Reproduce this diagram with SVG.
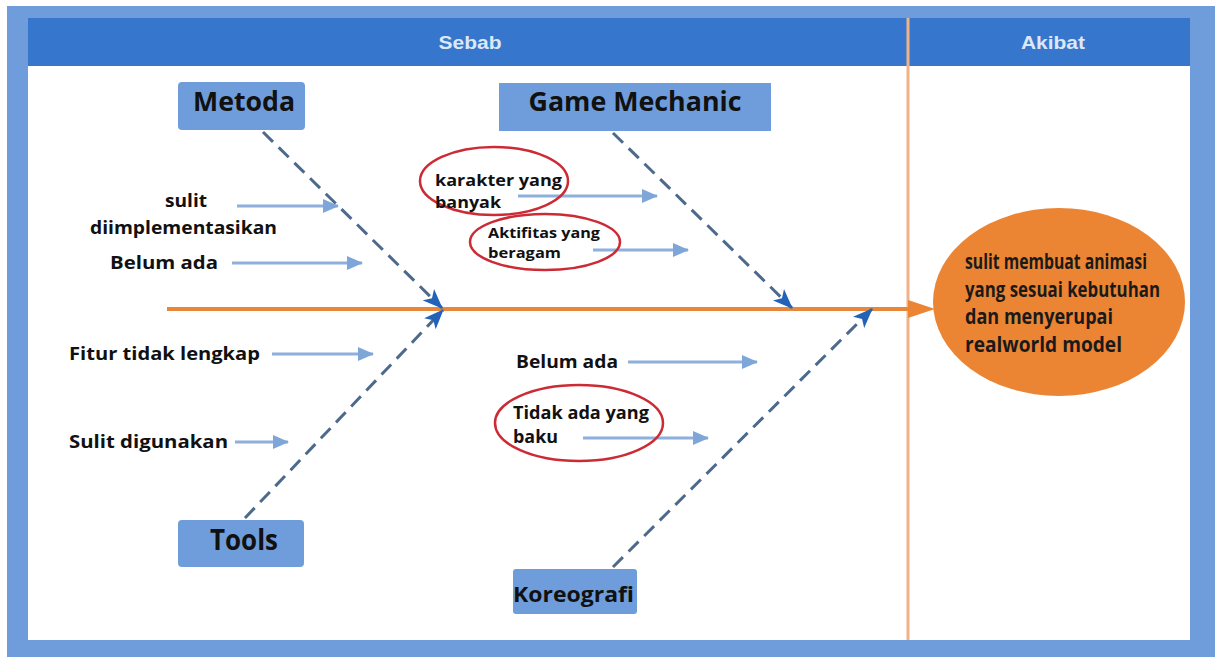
<svg xmlns="http://www.w3.org/2000/svg" width="1215" height="657" viewBox="0 0 1215 657">
<defs>
<style>
.lbl{font-family:"Open Sans","Liberation Sans",sans-serif;font-weight:bold;fill:#111;}
.hdr{font-family:"Liberation Sans Narrow","Liberation Sans",sans-serif;font-weight:bold;fill:#dce8f6;font-size:19px;}
.box{fill:#6f9ddb;}
.dash{stroke:#4d6a8c;stroke-width:3;stroke-dasharray:14 8;fill:none;}
.sub{stroke:#8eb0dc;stroke-width:3;fill:none;}
.ring{fill:none;stroke:#cc2b35;stroke-width:2.5;}
.eff{font-family:"Open Sans","Liberation Sans",sans-serif;font-weight:bold;fill:#1a1a1a;font-size:21px;}
</style>
<marker id="bigHead" viewBox="0 0 20 16" refX="19" refY="8" markerWidth="20" markerHeight="16" markerUnits="userSpaceOnUse" orient="auto">
<path d="M0,0 L20,8 L0,16 L5,8 Z" fill="#2262b8"/>
</marker>
<marker id="smallHead" viewBox="0 0 16 14" refX="15" refY="7" markerWidth="16" markerHeight="14" markerUnits="userSpaceOnUse" orient="auto">
<path d="M0,0 L16,7 L0,14 Z" fill="#7fa6d8"/>
</marker>
</defs>
<rect x="0" y="0" width="1215" height="657" fill="#ffffff"/>
<rect x="7" y="6" width="1208" height="651" fill="#6f9ddb"/>
<rect x="28" y="18" width="1162" height="622" fill="#ffffff"/>
<rect x="28" y="18" width="1162" height="48" fill="#3676cc"/>
<text class="hdr" x="470" y="49" text-anchor="middle" textLength="63" lengthAdjust="spacingAndGlyphs">Sebab</text>
<text class="hdr" x="1053" y="49" text-anchor="middle" textLength="64" lengthAdjust="spacingAndGlyphs">Akibat</text>

<g id="connectors">
<line x1="908" y1="18" x2="908" y2="640" stroke="#f1b287" stroke-width="3"/>
<line x1="167" y1="309" x2="908" y2="309" stroke="#e8863a" stroke-width="4"/>
<path d="M908,300 L935,309 L908,318 Z" fill="#ec8533"/>
<line class="dash" x1="263" y1="132" x2="442" y2="308" marker-end="url(#bigHead)"/>
<line class="dash" x1="613" y1="133" x2="792" y2="308" marker-end="url(#bigHead)"/>
<line class="dash" x1="245" y1="518" x2="443" y2="310" marker-end="url(#bigHead)"/>
<line class="dash" x1="613" y1="567" x2="872" y2="309" marker-end="url(#bigHead)"/>
<line class="sub" x1="237" y1="206" x2="338" y2="206" marker-end="url(#smallHead)"/>
<line class="sub" x1="232" y1="263" x2="362" y2="263" marker-end="url(#smallHead)"/>
<line class="sub" x1="518" y1="196" x2="657" y2="196" marker-end="url(#smallHead)"/>
<line class="sub" x1="593" y1="250" x2="688" y2="250" marker-end="url(#smallHead)"/>
<line class="sub" x1="272" y1="354" x2="373" y2="354" marker-end="url(#smallHead)"/>
<line class="sub" x1="235" y1="442" x2="288" y2="442" marker-end="url(#smallHead)"/>
<line class="sub" x1="628" y1="362" x2="757" y2="362" marker-end="url(#smallHead)"/>
<line class="sub" x1="583" y1="438" x2="708" y2="438" marker-end="url(#smallHead)"/>
</g>

<g id="metoda">
<rect class="box" x="178" y="82" width="127" height="48" rx="4"/>
<text class="lbl" x="244" y="111" font-size="26" text-anchor="middle" textLength="102" lengthAdjust="spacingAndGlyphs">Metoda</text>
</g>
<g id="game-mechanic">
<rect class="box" x="499" y="83" width="272" height="48"/>
<text class="lbl" x="635" y="111" font-size="26" text-anchor="middle" textLength="213" lengthAdjust="spacingAndGlyphs">Game Mechanic</text>
</g>
<g id="tools">
<rect class="box" x="178" y="520" width="126" height="47" rx="4"/>
<text class="lbl" x="244" y="550" font-size="28" text-anchor="middle" textLength="68" lengthAdjust="spacingAndGlyphs">Tools</text>
</g>
<g id="koreografi">
<rect class="box" x="513" y="569" width="124" height="45" rx="3"/>
<text class="lbl" x="513" y="602" font-size="21" textLength="121" lengthAdjust="spacingAndGlyphs">Koreografi</text>
</g>

<g id="cause-metoda-1">
<text class="lbl" x="186" y="207" font-size="18" text-anchor="middle" textLength="42" lengthAdjust="spacingAndGlyphs">sulit</text>
<text class="lbl" x="90" y="234" font-size="18" textLength="187" lengthAdjust="spacingAndGlyphs">diimplementasikan</text>
</g>
<g id="cause-metoda-2">
<text class="lbl" x="110" y="269" font-size="18" textLength="108" lengthAdjust="spacingAndGlyphs">Belum ada</text>
</g>
<g id="cause-gm-1">
<ellipse class="ring" cx="494" cy="181" rx="74" ry="34"/>
<text class="lbl" x="435" y="186" font-size="16" textLength="127" lengthAdjust="spacingAndGlyphs">karakter yang</text>
<text class="lbl" x="435" y="208" font-size="16" textLength="66" lengthAdjust="spacingAndGlyphs">banyak</text>
</g>
<g id="cause-gm-2">
<ellipse class="ring" cx="545" cy="242" rx="75" ry="28"/>
<text class="lbl" x="488" y="238" font-size="14" textLength="112" lengthAdjust="spacingAndGlyphs">Aktifitas yang</text>
<text class="lbl" x="488" y="258" font-size="14" textLength="73" lengthAdjust="spacingAndGlyphs">beragam</text>
</g>
<g id="cause-tools-1">
<text class="lbl" x="69" y="360" font-size="18" textLength="191" lengthAdjust="spacingAndGlyphs">Fitur tidak lengkap</text>
</g>
<g id="cause-tools-2">
<text class="lbl" x="69" y="448" font-size="18" textLength="159" lengthAdjust="spacingAndGlyphs">Sulit digunakan</text>
</g>
<g id="cause-kor-1">
<text class="lbl" x="516" y="368" font-size="18" textLength="102" lengthAdjust="spacingAndGlyphs">Belum ada</text>
</g>
<g id="cause-kor-2">
<ellipse class="ring" cx="579" cy="423" rx="84" ry="38"/>
<text class="lbl" x="513" y="419" font-size="17" textLength="136" lengthAdjust="spacingAndGlyphs">Tidak ada yang</text>
<text class="lbl" x="513" y="443" font-size="17" textLength="45" lengthAdjust="spacingAndGlyphs">baku</text>
</g>

<g id="effect">
<ellipse cx="1059" cy="302" rx="126" ry="94" fill="#ec8533"/>
<text class="eff" x="965" y="269" textLength="182" lengthAdjust="spacingAndGlyphs">sulit membuat animasi</text>
<text class="eff" x="965" y="297" textLength="195" lengthAdjust="spacingAndGlyphs">yang sesuai kebutuhan</text>
<text class="eff" x="965" y="324" textLength="148" lengthAdjust="spacingAndGlyphs">dan menyerupai</text>
<text class="eff" x="965" y="352" textLength="157" lengthAdjust="spacingAndGlyphs">realworld model</text>
</g>
</svg>
